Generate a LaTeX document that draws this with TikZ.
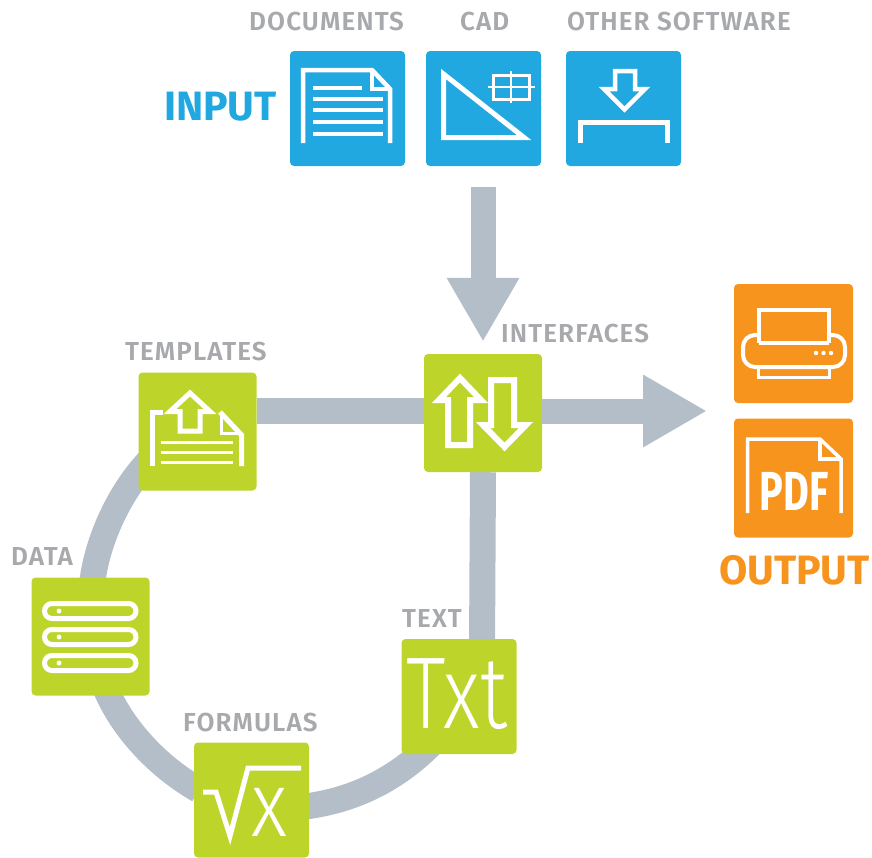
\documentclass[tikz,border=0pt]{standalone}
\usepackage{fontspec}
\usetikzlibrary{arrows.meta}
\setmainfont{Fira Sans}
\newfontfamily\labfont[LetterSpace=4.2]{Fira Sans SemiBold}
\newfontfamily\thinfont{Fira Sans Light}
\definecolor{cblue}{HTML}{21A8E0}
\definecolor{cgreen}{HTML}{BDD52B}
\definecolor{corange}{HTML}{F7941D}
\definecolor{cpipe}{HTML}{B4BEC8}
\definecolor{clabel}{HTML}{A7A9AC}
\pgfdeclarelayer{bg}
\pgfsetlayers{bg,main}
\tikzset{
  tile/.style={rectangle,rounded corners=4pt,inner sep=0pt,minimum width=#1,minimum height=#1},
  bluetile/.style={tile=115pt,fill=cblue},
  greentile/.style={tile=118pt,fill=cgreen},
  greentiles/.style={tile=115pt,fill=cgreen},
  orangetile/.style={tile=119pt,fill=corange},
  lab/.style={anchor=west,inner sep=0pt,text=clabel,font=\labfont\fontsize{26}{28}\selectfont},
  biglab/.style={anchor=west,inner sep=0pt,font=\bfseries\fontsize{41}{43}\selectfont},
  pipe/.style={draw=cpipe,line width=26pt},
  bigarrow/.style={draw=cpipe,line width=25pt,-{Triangle[width=68pt,length=64pt,fill=cpipe]}},
  ico/.style={draw=white,line width=#1,line join=miter,fill=none},
  ico/.default=4.5pt
}
\begin{document}
\begin{tikzpicture}[x=1pt,y=-1pt]
\useasboundingbox (0,0) rectangle (872,857);
% tiles
\node[bluetile] (doc) at (347.5,108.5) {};
\node[bluetile] (cad) at (483.5,108.5) {};
\node[bluetile] (other) at (623.5,108.5) {};
\node[greentile] (iface) at (483,413) {};
\node[greentile] (tmpl) at (197.5,431.5) {};
\node[greentile] (data) at (90.5,636.5) {};
\node[greentiles] (txt) at (459,696.5) {};
\node[greentiles] (form) at (251.5,800) {};
\node[orangetile] (printer) at (793.5,343.5) {};
\node[orangetile] (pdf) at (793.5,478) {};
% labels
\node[lab] (l1) at (249,22) {DOCUMENTS};
\node[lab] (l2) at (460,22) {CAD};
\node[lab] (l3) at (567,22) {OTHER SOFTWARE};
\node[lab] (l4) at (501,333) {INTERFACES};
\node[lab] (l5) at (125,351) {TEMPLATES};
\node[lab] (l6) at (11,556) {DATA};
\node[lab] (l7) at (402,618) {TEXT};
\node[lab] (l8) at (183,722) {FORMULAS};
\node[biglab,text=cblue] (inp) at (164,107) {INPUT};
\node[biglab,text=corange] (outp) at (719,570) {OUTPUT};
% connectors
\coordinate (instart) at (483,187);
\coordinate (outtip) at (707,411);
\begin{pgfonlayer}{bg}
\draw[pipe] ([yshift=2pt]iface.west) -- ([yshift=20.5pt]tmpl.east);
\draw[pipe] ([xshift=-42.5pt,yshift=-23.5pt]tmpl.center) .. controls (120,488) and (96,543) .. ([xshift=1.5pt,yshift=-8pt]data.north);
\draw[pipe] ([xshift=14pt,yshift=10pt]data.south) .. controls (120,725) and (155,765) .. ([xshift=5pt,yshift=10pt]form.west);
\draw[pipe] ([xshift=-8pt,yshift=-7pt]form.east) .. controls (345,802) and (390,785) .. ([xshift=-29pt,yshift=9pt]txt.south);
\draw[pipe] (iface.south) -- ([xshift=23pt,yshift=-10pt]txt.north);
\end{pgfonlayer}
\draw[bigarrow] (instart) -- ([yshift=12pt]iface.north);
\draw[bigarrow] ([yshift=2pt]iface.east) -- (outtip);
% document icon
\draw[ico] (303,143) -- (303,70) -- (372,70) -- (390,89) -- (390,143);
\draw[ico=3.5pt] (372,70) -- (372,89) -- (390,89);
\draw[ico=3.5pt] (313,88) -- (362,88);
\foreach \yy in {99,110,122,134}{\draw[ico=3.5pt] (313,\yy) -- (383,\yy);}
% cad icon
\draw[ico=5pt] (443.5,74) -- (443.5,137.5) -- (524,137.5) -- cycle;
\draw[ico=3pt] (493,75) rectangle (529,99);
\draw[ico=2.5pt] (511,71) -- (511,103);
\draw[ico=2.5pt] (488,87) -- (535,87);
% other software icon
\draw[ico] (615,71) -- (635,71) -- (635,89) -- (645,89) -- (624.5,109.5) -- (604,89) -- (615,89) -- cycle;
\draw[ico=5pt] (580,143) -- (580,122) -- (667,122) -- (667,143);
% templates icon
\draw[ico=5.5pt] (152.7,466) -- (152.7,412.7) -- (163,412.7);
\draw[ico=5pt] (220,412) -- (241.5,435) -- (241.5,466);
\draw[ico=3.5pt] (221.5,412) -- (221.5,433.5) -- (241.5,433.5);
\foreach \yy in {442.3,452.3,462.3}{\draw[ico=3pt] (161,\yy) -- (233,\yy);}
\draw[ico=5pt] (190,393) -- (210,411.5) -- (200,411.5) -- (200,431) -- (180,431) -- (180,411.5) -- (170,411.5) -- cycle;
% interfaces icon
\draw[ico=6pt] (460,378) -- (481,400) -- (470,400) -- (470,445) -- (448,445) -- (448,400) -- (439,400) -- cycle;
\draw[ico=6pt] (491,380) -- (514,380) -- (514,425) -- (526,425) -- (504.5,447) -- (483,425) -- (491,425) -- cycle;
% data icon
\foreach \yy in {611,637,663}{
  \draw[ico=5pt,rounded corners=7.5pt] (44.5,\yy-7.5) rectangle (136,\yy+7.5);
  \fill[white] (59,\yy) circle (2.5pt);
}
% txt icon
\node[inner sep=0pt,text=white,font=\thinfont\fontsize{102}{104}\selectfont,xscale=0.78] (txtglyph) at (457,694) {Txt};
% formula icon
\draw[ico=5pt] (203,792) -- (216,792) -- (230,836) -- (248,768) -- (301,768);
\node[inner sep=0pt,text=white,font=\thinfont\fontsize{92}{94}\selectfont,anchor=base,xscale=0.85] (xglyph) at (269,836) {x};
% printer icon
\draw[ico=4pt] (759,343) -- (759,310) -- (829,310) -- (829,343);
\draw[ico=4pt] (759,343) -- (829,343);
\draw[ico=4pt,rounded corners=12pt] (759,335) -- (743,335) -- (743,367) -- (845,367) -- (845,335) -- (829,335);
\draw[ico=3pt] (758,367) -- (758,377) -- (829,377) -- (829,367);
\foreach \xx in {816,823.5,831}{\fill[white] (\xx,353) circle (2.2pt);}
% pdf icon
\draw[ico=3.5pt] (747.5,513) -- (747.5,439) -- (820,439) -- (841,459) -- (841,513);
\draw[ico=3.5pt] (820,439) -- (820,459) -- (841,459);
\node[inner sep=0pt,text=white,font=\bfseries\fontsize{55}{57}\selectfont,xscale=0.72] (pdfglyph) at (794,491) {PDF};
\end{tikzpicture}
\end{document}
